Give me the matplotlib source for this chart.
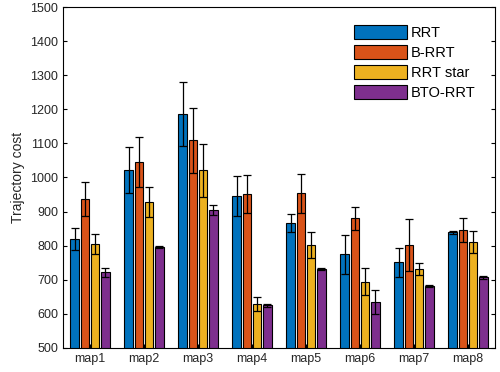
import matplotlib
matplotlib.use("Agg")
import matplotlib.pyplot as plt
import numpy as np

plt.rcParams["font.family"] = ["Liberation Sans", "DejaVu Sans"]

maps = ["map1", "map2", "map3", "map4", "map5", "map6", "map7", "map8"]
methods = ["RRT", "B-RRT", "RRT star", "BTO-RRT"]
colors = ["#0072BD", "#D95319", "#EDB120", "#7E2F8E"]

rrt_mean = [820, 1022, 1186, 945, 866, 775, 751, 839]
rrt_err = [32, 67, 93, 59, 27, 57, 43, 5]
brrt_mean = [936, 1045, 1109, 952, 954, 880, 801, 846]
brrt_err = [50, 73, 96, 55, 57, 33, 76, 36]
star_mean = [805, 928, 1021, 628, 803, 694, 731, 811]
star_err = [30, 43, 78, 21, 38, 39, 17, 32]
bto_mean = [722, 797, 904, 625, 731, 634, 681, 707]
bto_err = [13, 3, 14, 4, 3, 35, 2, 5]

means = [rrt_mean, brrt_mean, star_mean, bto_mean]
errs = [rrt_err, brrt_err, star_err, bto_err]

fig = plt.figure(figsize=(5, 3.72), dpi=100)
ax = fig.add_axes([0.126, 0.065, 0.864, 0.916])

x = np.arange(1, len(maps) + 1)
step = 0.19
width = 0.155
for i, (m, e) in enumerate(zip(means, errs)):
    pos = x + (i - 1.5) * step
    ax.bar(pos, m, width, color=colors[i], edgecolor="black", linewidth=0.8,
           label=methods[i], zorder=2)
    ax.errorbar(pos, m, yerr=e, fmt="none", ecolor="black", elinewidth=0.9,
                capsize=3, capthick=0.9, zorder=3)

ax.set_xlim(0.5, 8.5)
ax.set_ylim(500, 1500)
ax.set_yticks(np.arange(500, 1501, 100))
ax.set_xticks(x)
ax.set_xticklabels(maps)
ax.tick_params(direction="in", labelsize=9, length=3, top=False, right=True,
               labelcolor="#262626")
ax.set_ylabel("Trajectory cost", fontsize=10, color="#262626", labelpad=4)

ax.legend(loc="upper right", bbox_to_anchor=(0.985, 0.985), frameon=False,
          fontsize=10.5, handlelength=3.6, handleheight=1.1,
          labelspacing=0.35, handletextpad=0.25)

fig.savefig("out.png", dpi=100)
